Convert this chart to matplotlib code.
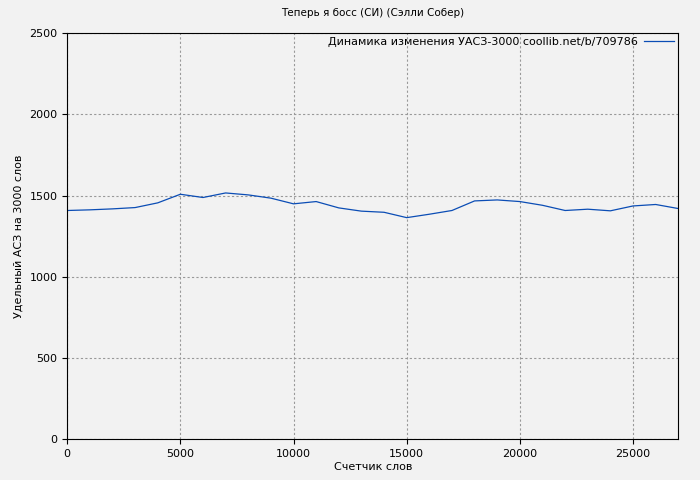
import matplotlib
matplotlib.use("Agg")
import matplotlib.pyplot as plt

words = list(range(0, 28000, 1000))
uasz = [1408, 1412, 1418, 1426, 1455, 1508, 1488, 1516, 1504, 1484,
        1449, 1463, 1424, 1404, 1397, 1364, 1385, 1408, 1467, 1473,
        1463, 1440, 1408, 1416, 1406, 1436, 1445, 1420]

plt.rcParams['font.family'] = ['DejaVu Sans']
plt.rcParams['font.size'] = 8

fig = plt.figure(figsize=(7, 4.8), dpi=100, facecolor='#f2f2f2')
ax = fig.add_axes([0.096, 0.085, 0.873, 0.846])
ax.set_facecolor('#f2f2f2')
ax.plot(words, uasz, color='#0b4db5', linewidth=0.9,
        label='Динамика изменения УАСЗ-3000 coollib.net/b/709786')
ax.set_xlim(0, 27000)
ax.set_ylim(0, 2500)
ax.set_xticks(range(0, 27000, 5000))
ax.set_yticks(range(0, 2501, 500))
ax.grid(True, color='#999999', linestyle=(0, (2, 2)), linewidth=0.8)
ax.set_title('Теперь я босс (СИ) (Сэлли Собер)', fontsize=7.5, pad=12)
ax.set_xlabel('Счетчик слов', labelpad=2)
ax.set_ylabel('Удельный АСЗ на 3000 слов')
leg = ax.legend(loc='upper right', frameon=False, markerfirst=False,
                handlelength=2.7, handletextpad=0.6, borderaxespad=0.05,
                borderpad=0.3)
fig.savefig('out.png', dpi=100, facecolor=fig.get_facecolor())
